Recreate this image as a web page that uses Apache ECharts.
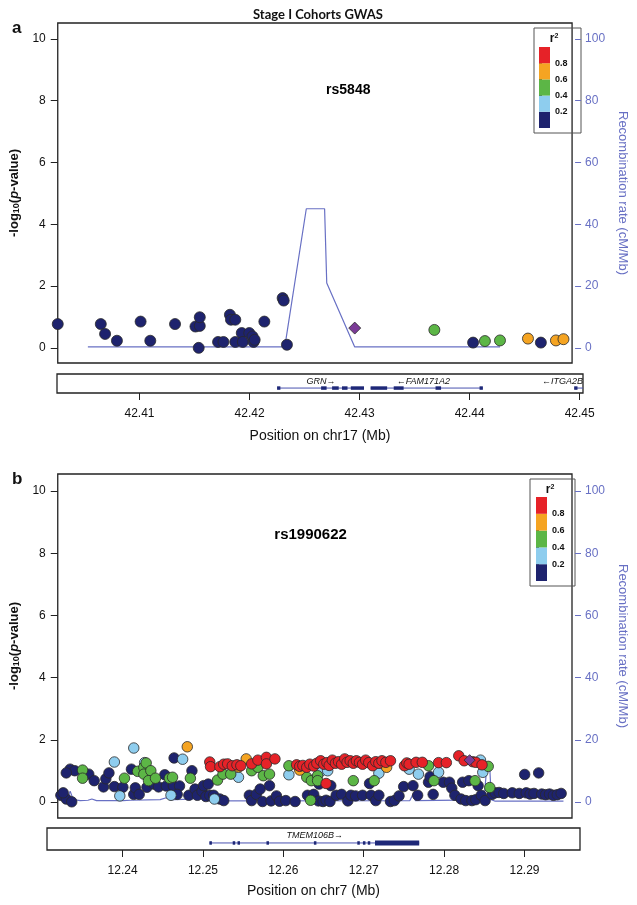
<!DOCTYPE html>
<html><head><meta charset="utf-8">
<script src="https://cdn.jsdelivr.net/npm/echarts@6/dist/echarts.min.js"></script>
<style>html,body{margin:0;padding:0;background:#fff}#c{width:637px;height:905px}</style>
</head><body><div id="c"></div>
<script>
// ---------------- data ----------------
const r2Breaks = [0, 0.2, 0.4, 0.6, 0.8, 1.0];
const pTicks = [0, 2, 4, 6, 8, 10];
const recTicks = [0, 20, 40, 60, 80, 100];
const aTicks = [42.41, 42.42, 42.43, 42.44, 42.45];
const bTicks = [12.24, 12.25, 12.26, 12.27, 12.28, 12.29];

// Panel a (chr17, rs5848): [position Mb, -log10 p]
const aNavy = [[42.4025,0.77],[42.4065,0.77],[42.4069,0.45],[42.4080,0.23],[42.4102,0.85],[42.4111,0.23],[42.4134,0.77],[42.4153,0.69],[42.4157,0.71],[42.4157,0.99],[42.4156,0.0],[42.4174,0.19],[42.4179,0.19],[42.4185,1.07],[42.4186,0.91],[42.4190,0.91],[42.4190,0.19],[42.4196,0.48],[42.4197,0.19],[42.4203,0.48],[42.4206,0.37],[42.4207,0.19],[42.4208,0.26],[42.4217,0.85],[42.4234,1.61],[42.4235,1.53],[42.4238,0.10],[42.4411,0.17],[42.4474,0.17]];
const aLightBlue = [];
const aGreen = [[42.4375,0.58],[42.4422,0.22],[42.4436,0.24]];
const aOrange = [[42.4462,0.30],[42.4488,0.24],[42.4495,0.28]];
const aRed = [];
const aLead = [[42.4301,0.64]];
const aLeadLabel = [[42.4295,8.35]];
const aRecomb = [[42.4053,0.3],[42.4236,0.3],[42.4256,45],[42.4273,45],[42.4275,21],[42.4301,0.3],[42.4436,0.3]];
const aGeneNames = ['GRN','FAM171A2','ITGA2B'];
const aGeneStrand = ['+','-','-'];
const aGeneSpan = [[42.4225,42.4304],[42.4310,42.4412],[42.4495,42.4669]];
const aGeneLabelPos = [42.4265, 42.4358, 42.4560];
const aExons = [[42.4225,42.4228],[42.4265,42.4270],[42.4275,42.4281],[42.4284,42.4289],[42.4292,42.4304],[42.4310,42.4325],[42.4331,42.4340],[42.4369,42.4374],[42.4409,42.4412],[42.4495,42.4498]];

// Panel b (chr7, rs1990622)
const bNavy = [[12.2310,0.22],[12.2317,0.10],[12.2324,0.01],[12.2313,0.30],[12.2322,1.06],[12.2328,1.01],[12.2317,0.94],[12.2346,0.90],[12.2353,0.69],[12.2365,0.49],[12.2368,0.75],[12.2372,0.94],[12.2379,0.50],[12.2390,0.48],[12.2401,1.06],[12.2404,0.25],[12.2406,0.46],[12.2411,0.25],[12.2421,0.48],[12.2430,0.58],[12.2436,0.49],[12.2444,0.88],[12.2446,0.52],[12.2455,0.52],[12.2463,0.52],[12.2456,1.42],[12.2460,0.25],[12.2475,0.22],[12.2479,1.01],[12.2483,0.42],[12.2486,0.22],[12.2492,0.35],[12.2494,0.53],[12.2500,0.58],[12.2497,0.18],[12.2502,0.22],[12.2507,0.22],[12.2515,0.10],[12.2520,0.05],
[12.2553,0.22],[12.2556,0.05],[12.2562,0.25],[12.2567,0.42],[12.2570,0.02],[12.2579,0.53],[12.2581,0.04],[12.2588,0.20],[12.2592,0.03],[12.2600,0.05],[12.2612,0.02],[12.2628,0.22],[12.2636,0.25],[12.2643,0.58],[12.2642,0.04],[12.2648,0.02],[12.2652,0.06],[12.2658,0.53],[12.2657,0.02],[12.2665,0.22],[12.2672,0.25],[12.2680,0.04],[12.2684,0.22],[12.2690,0.20],[12.2699,0.22],[12.2708,0.60],[12.2710,0.22],[12.2716,0.05],[12.2720,0.22],[12.2735,0.02],[12.2740,0.05],[12.2746,0.20],[12.2752,0.50],[12.2764,0.53],[12.2770,0.22],[12.2784,0.64],[12.2786,0.82],[12.2790,0.25],[12.2803,0.64],[12.2811,0.64],[12.2814,0.45],[12.2818,0.22],[12.2828,0.64],[12.2836,0.69],[12.2826,0.10],[12.2832,0.05],[12.2840,0.05],[12.2845,0.08],[12.2848,0.53],[12.2852,0.22],[12.2857,0.05],
[12.2866,0.25],[12.2870,0.30],[12.2875,0.31],[12.2881,0.28],[12.2892,0.30],[12.2901,0.28],[12.2908,0.89],[12.2910,0.30],[12.2915,0.26],[12.2920,0.28],[12.2926,0.94],[12.2930,0.26],[12.2935,0.24],[12.2940,0.26],[12.2945,0.22],[12.2950,0.24],[12.2955,0.28]];
const bLightBlue = [[12.2379,1.29],[12.2404,1.74],[12.2418,1.27],[12.2467,1.38],[12.2539,0.80],[12.2604,0.88],[12.2645,0.99],[12.2654,1.01],[12.2720,0.93],[12.2759,1.06],[12.2771,0.90],[12.2797,0.96],[12.2851,1.35],[12.2854,0.96],[12.2386,0.20],[12.2452,0.22],[12.2508,0.10]];
const bGreen = [[12.2338,1.03],[12.2338,0.77],[12.2392,0.77],[12.2409,0.99],[12.2417,1.12],[12.2417,0.90],[12.2420,1.26],[12.2426,1.01],[12.2423,0.69],[12.2432,0.77],[12.2450,0.77],[12.2454,0.80],[12.2477,0.77],[12.2512,0.71],[12.2519,0.90],[12.2529,0.90],[12.2556,1.01],[12.2564,1.12],[12.2571,0.85],[12.2579,0.90],[12.2604,1.17],[12.2627,0.80],[12.2633,0.69],[12.2641,0.85],[12.2641,0.69],[12.2632,0.06],[12.2687,0.69],[12.2714,0.69],[12.2784,1.17],[12.2791,0.69],[12.2844,0.69],[12.2861,1.15],[12.2863,0.47]];
const bOrange = [[12.2473,1.78],[12.2549,1.39],[12.2539,1.13],[12.2618,1.03],[12.2730,1.12]];
const bRed = [[12.2502,1.29],[12.2503,1.14],[12.2515,1.14],[12.2520,1.22],[12.2525,1.23],[12.2531,1.17],[12.2537,1.20],[12.2542,1.17],[12.2556,1.23],[12.2564,1.35],[12.2575,1.44],[12.2575,1.23],[12.2586,1.39],
[12.2614,1.20],[12.2618,1.15],[12.2622,1.18],[12.2627,1.12],[12.2631,1.22],[12.2636,1.16],[12.2640,1.25],[12.2645,1.33],[12.2649,1.22],[12.2653,1.27],[12.2656,1.18],[12.2660,1.35],[12.2664,1.25],[12.2668,1.30],[12.2672,1.22],[12.2676,1.39],[12.2679,1.28],[12.2683,1.33],[12.2687,1.25],[12.2691,1.33],[12.2695,1.28],[12.2699,1.22],[12.2703,1.35],[12.2707,1.27],[12.2712,1.17],[12.2716,1.30],[12.2720,1.25],[12.2724,1.33],[12.2729,1.28],[12.2735,1.33],[12.2652,0.60],
[12.2753,1.17],[12.2756,1.26],[12.2759,1.22],[12.2768,1.28],[12.2776,1.28],[12.2797,1.27],[12.2807,1.27],
[12.2823,1.49],[12.2830,1.33],[12.2841,1.30],[12.2845,1.28],[12.2853,1.20]];
const bLead = [[12.2837,1.35]];
const bLeadLabel = [[12.2632,8.59]];
const bRecomb = [[12.2306,1.5],[12.2318,1.0],[12.2322,3.5],[12.2326,0.8],[12.2335,0.5],[12.2345,0.6],[12.2350,1.0],[12.2356,0.5],[12.2390,0.5],[12.2400,0.6],[12.2438,0.8],[12.2446,1.4],[12.2455,0.8],[12.2480,1.0],[12.2490,2.0],[12.2500,0.4],[12.2760,0.5],[12.2764,2.5],[12.2767,0.5],[12.2852,0.7],[12.2856,2.0],[12.2859,11],[12.2863,11],[12.2865,0.8],[12.2870,0.3],[12.2958,0.3]];
const bGeneNames = ['TMEM106B'];
const bGeneStrand = ['+'];
const bGeneSpan = [[12.2508,12.2769]];
const bGeneLabelPos = [12.2639];
const bExons = [[12.2508,12.2511],[12.2537,12.2539],[12.2543,12.2546],[12.2579,12.2581],[12.2638,12.2641],[12.2692,12.2695],[12.2699,12.2700],[12.2705,12.2707],[12.2714,12.2769]];

// ---------------- styles ----------------
const FONT = '"Liberation Sans", Arial, sans-serif';
const R2_COLORS = ['#1E236E', '#8ECDEE', '#5CB646', '#F5A422', '#E62228'];
const LEAD_COLOR = '#7B3B97';
const REC_COLOR = '#6870C4';
const GENE_COLOR = '#1E2878';

const chart = echarts.init(document.getElementById('c'));

function pAxis(gi, min, max, gap) {
  return {type:'value', gridIndex:gi, position:'left', min, max,
    axisLine:{show:false}, splitLine:{show:false},
    axisTick:{show:true, length:7, lineStyle:{color:'#222', width:1}, customValues:pTicks},
    axisLabel:{color:'#111', fontSize:12, fontFamily:FONT, margin:12, customValues:pTicks},
    name:'-log{s|10}({i|p}-value)', nameLocation:'middle', nameGap:gap, nameRotate:90,
    nameTextStyle:{fontFamily:FONT, fontWeight:'bold', fontSize:13, color:'#111',
      rich:{s:{fontFamily:FONT, fontSize:9, fontWeight:'bold', color:'#111', verticalAlign:'bottom', padding:[5,0,0,0]},
            i:{fontFamily:FONT, fontStyle:'italic', fontWeight:'bold', fontSize:13, color:'#111'}}}};
}
function recAxis(gi, min, max, gap) {
  return {type:'value', gridIndex:gi, position:'right', min, max, offset:3,
    axisLine:{show:false}, splitLine:{show:false},
    axisTick:{show:true, length:6, lineStyle:{color:REC_COLOR, width:1}, customValues:recTicks},
    axisLabel:{color:REC_COLOR, fontSize:12, fontFamily:FONT, margin:10, customValues:recTicks},
    name:'Recombination rate (cM/Mb)', nameLocation:'middle', nameGap:gap, nameRotate:-90,
    nameTextStyle:{fontFamily:FONT, fontSize:13, color:REC_COLOR}};
}
function hiddenAxis(gi, min, max) { return {type:'value', gridIndex:gi, min, max, show:false}; }
function posAxis(gi, min, max, ticks, title, gap) {
  return {type:'value', gridIndex:gi, min, max, axisLine:{show:false}, splitLine:{show:false},
    axisTick:{show:true, length:7, lineStyle:{color:'#222'}, customValues:ticks},
    axisLabel:{customValues:ticks, formatter:v=>v.toFixed(2), fontSize:12, fontFamily:FONT, color:'#111', margin:15},
    name:title, nameLocation:'middle', nameGap:gap, nameTextStyle:{fontSize:14, fontFamily:FONT, color:'#111'}};
}
function legAxis(gi) {
  const v = r2Breaks.slice(1, -1);
  return {type:'value', gridIndex:gi, position:'right', min:0, max:1, axisLine:{show:false}, splitLine:{show:false},
    axisTick:{show:true, length:3, lineStyle:{color:'#222'}, customValues:v},
    axisLabel:{customValues:v, formatter:x=>x.toFixed(1), fontSize:9, fontFamily:FONT, fontWeight:'bold', color:'#111', margin:5}};
}

function scat(data, color, xi, yi, size, symbol) {
  return {type:'scatter', xAxisIndex:xi, yAxisIndex:yi, data, symbol:symbol||'circle', symbolSize:size, clip:true,
    itemStyle:{color, borderColor:'#2a2a2a', borderWidth:0.8, opacity:1}, emphasis:{disabled:true}, silent:true};
}
function recLine(data, xi, yi) {
  return {type:'line', xAxisIndex:xi, yAxisIndex:yi, data, showSymbol:false, symbol:'none',
    lineStyle:{color:REC_COLOR, width:1.2}, z:1, silent:true, animation:false};
}
function rsLabel(data, text, xi, yi, size) {
  return {type:'custom', xAxisIndex:xi, yAxisIndex:yi, data, silent:true, z:5,
    renderItem:(p, api) => {
      const c = api.coord([api.value(0), api.value(1)]);
      return {type:'text', x:c[0], y:c[1], style:{text, fill:'#000', font:'bold ' + size + 'px ' + FONT, textAlign:'center', textVerticalAlign:'middle'}};
    }};
}
function geneLines(spans, xi, yi, frac) {
  return {type:'custom', xAxisIndex:xi, yAxisIndex:yi, data:spans, silent:true,
    renderItem:(p, api) => {
      const cs = p.coordSys;
      const a = api.coord([api.value(0), frac]), b = api.coord([api.value(1), frac]);
      const x1 = Math.max(a[0], cs.x), x2 = Math.min(b[0], cs.x + cs.width);
      if (x2 <= x1) return null;
      return {type:'line', shape:{x1, y1:a[1], x2, y2:a[1]}, style:{stroke:'#4A52B0', lineWidth:1}};
    }};
}
function geneExons(exons, xi, yi, frac) {
  return {type:'custom', xAxisIndex:xi, yAxisIndex:yi, data:exons, silent:true,
    renderItem:(p, api) => {
      const cs = p.coordSys;
      const a = api.coord([api.value(0), frac]), b = api.coord([api.value(1), frac]);
      const x1 = Math.max(a[0], cs.x), x2 = Math.min(b[0], cs.x + cs.width);
      if (x2 <= x1 - 2) return null;
      const w = Math.max(x2 - x1, 2.5);
      const h = w > 20 ? 5 : 3.5;
      return {type:'rect', shape:{x:x1, y:a[1]-h/2, width:w, height:h}, style:{fill:GENE_COLOR}};
    }};
}
function geneLabels(pos, names, strands, xi, yi, frac) {
  return {type:'custom', xAxisIndex:xi, yAxisIndex:yi, data:pos.map(v=>[v]), silent:true,
    renderItem:(p, api) => {
      const cs = p.coordSys;
      const i = p.dataIndex;
      const t = strands[i] === '+' ? names[i] + '\u2192' : '\u2190' + names[i];
      const c = api.coord([api.value(0), frac]);
      const w = t.length * 5.3;
      let x = c[0];
      if (x + w/2 > cs.x + cs.width - 2) x = cs.x + cs.width - 2 - w/2;
      return {type:'text', x, y:c[1], style:{text:t, fill:'#111', font:'italic 9px ' + FONT, textAlign:'center', textVerticalAlign:'middle'}};
    }};
}
function legendBar(xi, yi) {
  const d = r2Breaks.slice(0, -1).map((v, i) => [v, r2Breaks[i+1]]);
  return {type:'custom', xAxisIndex:xi, yAxisIndex:yi, data:d, silent:true,
    renderItem:(p, api) => {
      const a = api.coord([0, api.value(1)]), b = api.coord([1, api.value(0)]);
      return {type:'rect', shape:{x:a[0], y:a[1], width:b[0]-a[0], height:b[1]-a[1]}, style:{fill:R2_COLORS[p.dataIndex]}};
    }};
}

const aMin = 42.4025, aMax = 42.4503;
const bMin = 12.2306, bMax = 12.2969;

const option = {
  animation:false,
  backgroundColor:'#fff',
  title:[
    {text:'Stage I Cohorts GWAS', left:313, top:3, textAlign:'center', textStyle:{fontFamily:'Lato, "Open Sans", sans-serif', fontWeight:'bold', fontSize:13, color:'#111'}},
    {text:'a', left:7, top:15, textStyle:{fontFamily:FONT, fontWeight:'bold', fontSize:17, color:'#111'}},
    {text:'b', left:7, top:466, textStyle:{fontFamily:FONT, fontWeight:'bold', fontSize:17, color:'#111'}}
  ],
  grid:[
    {left:57, top:23, width:526, height:340, show:true, borderColor:'#222', borderWidth:1.3, backgroundColor:'transparent'},
    {left:57, top:374, width:526, height:19, show:true, borderColor:'#222', borderWidth:1.3, backgroundColor:'transparent'},
    {left:539, top:47, width:11, height:81},
    {left:47, top:474, width:533, height:344, show:true, borderColor:'#222', borderWidth:1.3, backgroundColor:'transparent'},
    {left:47, top:828, width:533, height:22, show:true, borderColor:'#222', borderWidth:1.3, backgroundColor:'transparent'},
    {left:536, top:497, width:11, height:84}
  ],
  xAxis:[
    hiddenAxis(0, aMin, aMax),
    posAxis(1, aMin, aMax, aTicks, 'Position on chr17 (Mb)', 36),
    hiddenAxis(2, 0, 1),
    hiddenAxis(3, bMin, bMax),
    posAxis(4, bMin, bMax, bTicks, 'Position on chr7 (Mb)', 34),
    hiddenAxis(5, 0, 1)
  ],
  yAxis:[
    pAxis(0, -0.49, 10.51, 36),
    recAxis(0, -4.9, 105.1, 38),
    hiddenAxis(1, 0, 1),
    legAxis(2),
    pAxis(3, -0.51, 10.55, 26),
    recAxis(3, -5.1, 105.5, 41),
    hiddenAxis(4, 0, 1),
    legAxis(5)
  ],
  graphic:[
    {type:'rect', shape:{x:534, y:28, width:47, height:105}, style:{fill:'none', stroke:'#555', lineWidth:1}},
    {type:'text', x:554, y:39, style:{text:'{r|r}{s|2}', textAlign:'center', textVerticalAlign:'middle', rich:{r:{font:'bold 12px ' + FONT, fill:'#111'}, s:{font:'bold 7px ' + FONT, fill:'#111', verticalAlign:'top', padding:[0,0,6,0]}}}},
    {type:'rect', shape:{x:530, y:479, width:45, height:107}, style:{fill:'none', stroke:'#555', lineWidth:1}},
    {type:'text', x:550, y:490, style:{text:'{r|r}{s|2}', textAlign:'center', textVerticalAlign:'middle', rich:{r:{font:'bold 12px ' + FONT, fill:'#111'}, s:{font:'bold 7px ' + FONT, fill:'#111', verticalAlign:'top', padding:[0,0,6,0]}}}}
  ],
  series:[
    recLine(aRecomb, 0, 1),
    scat(aNavy, R2_COLORS[0], 0, 0, 11),
    scat(aLightBlue, R2_COLORS[1], 0, 0, 11),
    scat(aGreen, R2_COLORS[2], 0, 0, 11),
    scat(aOrange, R2_COLORS[3], 0, 0, 11),
    scat(aRed, R2_COLORS[4], 0, 0, 11),
    scat(aLead, LEAD_COLOR, 0, 0, 12, 'diamond'),
    rsLabel(aLeadLabel, 'rs5848', 0, 0, 14),
    geneLines(aGeneSpan, 1, 2, 0.26),
    geneExons(aExons, 1, 2, 0.26),
    geneLabels(aGeneLabelPos, aGeneNames, aGeneStrand, 1, 2, 0.62),
    legendBar(2, 3),

    recLine(bRecomb, 3, 5),
    scat(bNavy, R2_COLORS[0], 3, 4, 10.5),
    scat(bLightBlue, R2_COLORS[1], 3, 4, 10.5),
    scat(bGreen, R2_COLORS[2], 3, 4, 10.5),
    scat(bOrange, R2_COLORS[3], 3, 4, 10.5),
    scat(bRed, R2_COLORS[4], 3, 4, 10.5),
    scat(bLead, LEAD_COLOR, 3, 4, 11, 'diamond'),
    rsLabel(bLeadLabel, 'rs1990622', 3, 4, 15),
    geneLines(bGeneSpan, 4, 6, 0.32),
    geneExons(bExons, 4, 6, 0.32),
    geneLabels(bGeneLabelPos, bGeneNames, bGeneStrand, 4, 6, 0.66),
    legendBar(5, 7)
  ]
};
chart.setOption(option);
</script></body></html>
